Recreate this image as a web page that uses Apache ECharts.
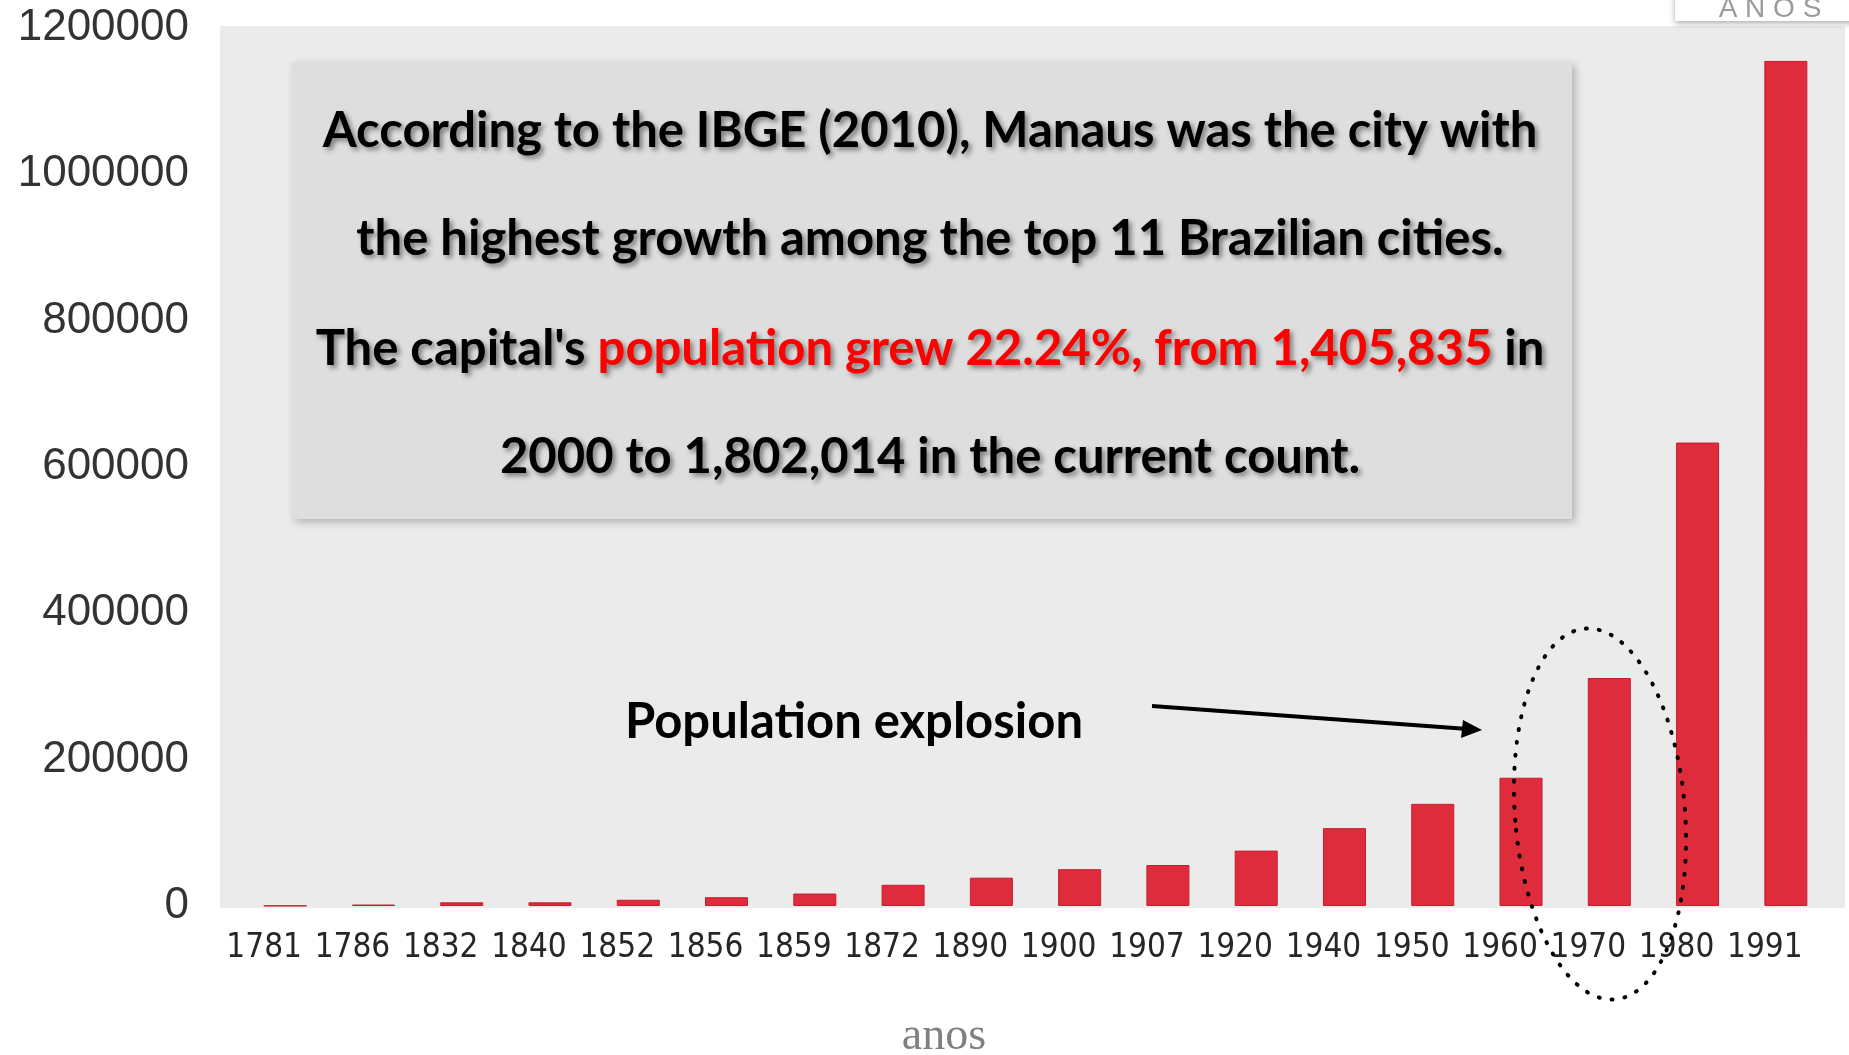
<!DOCTYPE html>
<html>
<head>
<meta charset="utf-8">
<title>Manaus population</title>
<script src="https://cdn.jsdelivr.net/npm/echarts@6/dist/echarts.min.js"></script>
<style>
  html, body { margin: 0; padding: 0; background: #fff; }
  #chart { width: 1849px; height: 1055px; }
</style>
</head>
<body>
<div id="chart"></div>
<script>
// census years and population
var years = ["1781", "1786", "1832", "1840", "1852", "1856", "1859", "1872", "1890",
  "1900", "1907", "1920", "1940", "1950", "1960", "1970", "1980", "1991"];
var population = [500, 2000, 5000, 5000, 8500, 12000, 17000, 29000, 38700,
  50300, 56000, 75700, 106400, 139600, 175300, 311600, 633400, 1155000];
var yTicks = [0, 200000, 400000, 600000, 800000, 1000000, 1200000];

var noteLines = [
  "According to the IBGE (2010), Manaus was the city with",
  "the highest growth among the top 11 Brazilian cities.",
  ["The capital's ", "population grew 22.24%, from 1,405,835", " in"],
  "2000 to 1,802,014 in the current count."
];

var myChart = echarts.init(document.getElementById("chart"));

var shadowText = {
  textShadowColor: "rgba(0,0,0,0.45)",
  textShadowBlur: 5,
  textShadowOffsetX: 3,
  textShadowOffsetY: 3
};
var noteFont = "bold 49px Lato, 'Open Sans', sans-serif";

function noteText(i, y) {
  var line = noteLines[i];
  var style;
  if (Array.isArray(line)) {
    style = {
      text: "{b|" + line[0] + "}{r|" + line[1] + "}{b|" + line[2] + "}",
      rich: {
        b: Object.assign({ font: noteFont, fill: "#000" }, shadowText),
        r: Object.assign({ font: noteFont, fill: "#ff0000" }, shadowText)
      }
    };
  } else {
    style = Object.assign({ text: line, font: noteFont, fill: "#000" }, shadowText);
  }
  style.align = "center";
  style.verticalAlign = "middle";
  return { type: "text", x: 930, y: y, z: 20, style: style };
}

myChart.setOption({
  backgroundColor: "#ffffff",
  animation: false,
  grid: {
    left: 241,
    right: 19,
    top: 28,
    bottom: 149,
    containLabel: false,
    outerBoundsMode: "none"
  },
  xAxis: {
    type: "category",
    data: years,
    axisLine: { show: false },
    axisTick: { show: false },
    axisLabel: {
      interval: 0,
      margin: 26,
      padding: [0, 42, 0, 0],
      color: "#262626",
      fontSize: 33,
      fontFamily: "'Liberation Sans Narrow', 'DejaVu Sans Condensed', sans-serif"
    }
  },
  yAxis: {
    type: "value",
    min: yTicks[0],
    max: yTicks[yTicks.length - 1],
    interval: 200000,
    splitLine: { show: false },
    axisLine: { show: false },
    axisTick: { show: false },
    axisLabel: {
      margin: 52,
      color: "#333333",
      fontSize: 44,
      fontFamily: "'Liberation Sans', sans-serif",
      formatter: function (v) { return String(v); }
    }
  },
  series: [
    {
      type: "bar",
      data: population,
      barWidth: 43,
      itemStyle: {
        color: "#de2c3c",
        borderColor: "#c41d2d",
        borderWidth: 1
      }
    }
  ],
  graphic: [
    // gray plot background
    { type: "rect", z: -10, shape: { x: 220, y: 26, width: 1625, height: 882 },
      style: { fill: "#ebebeb" } },
    // white tab at top right
    { type: "rect", z: 5, shape: { x: 1675, y: -10, width: 200, height: 31 },
      style: { fill: "#ffffff", shadowColor: "rgba(0,0,0,0.35)", shadowBlur: 6, shadowOffsetY: 2 } },
    { type: "text", z: 6, x: 1770, y: 23,
      style: { text: "A N O S", font: "28px 'Liberation Sans', sans-serif", fill: "#9a9a9a",
        align: "center", verticalAlign: "bottom" } },
    // note box
    { type: "rect", z: 10, shape: { x: 292, y: 62, width: 1280, height: 457 },
      style: { fill: "#dedede", shadowColor: "rgba(0,0,0,0.25)", shadowBlur: 8, shadowOffsetX: 3, shadowOffsetY: 3 } },
    noteText(0, 131),
    noteText(1, 239),
    noteText(2, 349),
    noteText(3, 457),
    // annotation
    { type: "text", z: 20, x: 625, y: 722,
      style: { text: "Population explosion", font: noteFont, fill: "#000",
        align: "left", verticalAlign: "middle" } },
    { type: "line", z: 20, shape: { x1: 1152, y1: 706, x2: 1468, y2: 729 },
      style: { stroke: "#000", lineWidth: 4 } },
    { type: "polygon", z: 20, shape: { points: [[1482, 730], [1463, 720], [1461, 738]] },
      style: { fill: "#000" } },
    { type: "ellipse", z: 20, x: 1600, y: 814, rotation: 0.08,
      shape: { cx: 0, cy: 0, rx: 85, ry: 186 },
      style: { fill: null, stroke: "#000", lineWidth: 4, lineDash: [1, 12], lineCap: "round" } },
    // axis name
    { type: "text", z: 20, x: 944, y: 1037,
      style: { text: "anos", font: "46px 'Liberation Serif', serif", fill: "#808080",
        align: "center", verticalAlign: "middle" } }
  ]
});
</script>
</body>
</html>
